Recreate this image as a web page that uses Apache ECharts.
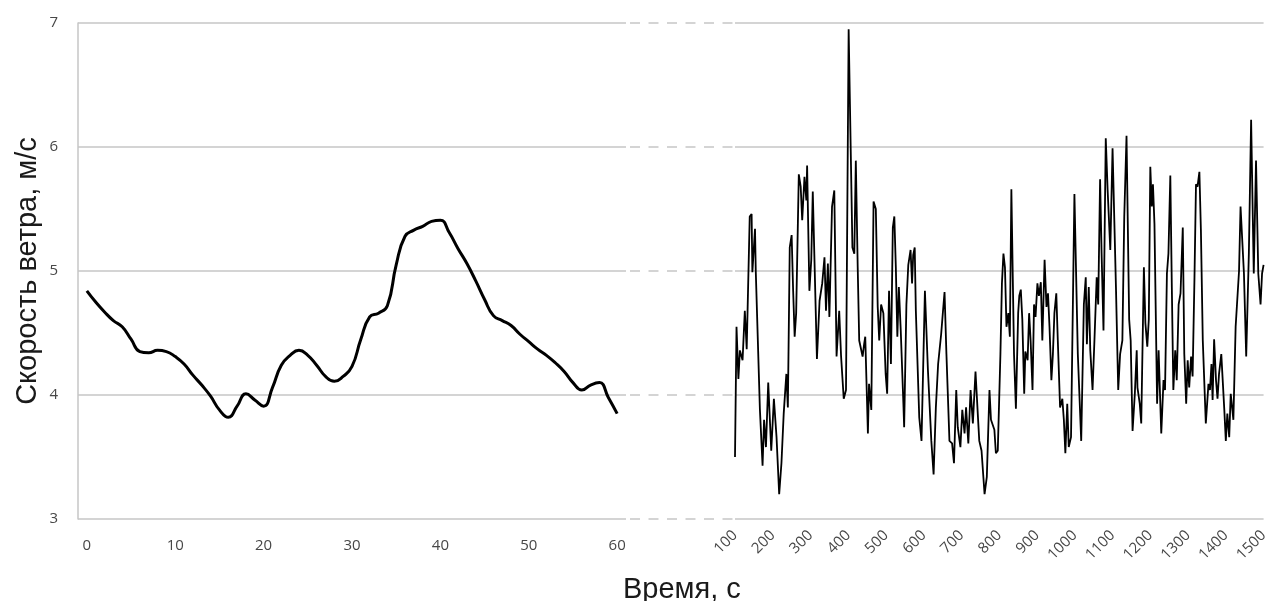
<!DOCTYPE html>
<html>
<head>
<meta charset="utf-8">
<script src="https://cdn.jsdelivr.net/npm/echarts@6/dist/echarts.min.js"></script>
<style>
  html, body { margin: 0; padding: 0; background: #fff; }
  #chart { width: 1271px; height: 601px; }
</style>
</head>
<body>
<div id="chart"></div>
<script>
// first minute, smoothed
var leftTime = [0,1,2,3,4,5,6,7,8,9,10,11,12,13,14,15,16,17,18,19,20,
  21,22,23,24,25,26,27,28,29,30,31,32,33,34,35,36,37,38,39,40,
  41,42,43,44,45,46,47,48,49,50,51,52,53,54,55,56,57,58,59,60];
var leftSpeed = [4.84,4.75,4.67,4.60,4.55,4.45,4.35,4.34,4.36,4.35,4.31,
  4.25,4.16,4.08,3.99,3.88,3.82,3.91,4.01,3.96,3.91,
  4.06,4.24,4.32,4.36,4.32,4.24,4.15,4.11,4.15,4.23,
  4.45,4.63,4.66,4.72,5.05,5.28,5.33,5.36,5.40,5.41,
  5.31,5.18,5.06,4.92,4.77,4.64,4.60,4.56,4.49,4.43,
  4.37,4.32,4.26,4.19,4.10,4.04,4.08,4.10,3.98,3.85];

// 100..1500 s, raw
var rightTime = [100,104,109,113,120,126,131,139,144,146,153,155,166,173,177,182,188,196,
  203,210,217,223,229,236,240,245,250,254,258,262,269,274,278,284,289,291,297,302,306,
  317,324,331,337,341,346,350,357,363,369,376,381,388,394,401,411,416,420,425,429,438,
  442,445,452,455,461,467,473,478,482,487,493,499,503,508,513,518,522,526,530,534,539,
  546,548,554,559,565,569,572,576,579,588,594,603,611,620,626,632,638,642,646,651,655,
  660,668,675,680,686,690,697,702,708,712,718,724,730,737,743,747,753,761,767,774,778,
  787,791,796,803,807,811,815,819,824,828,832,839,844,850,853,857,861,866,869,875,879,
  883,888,892,896,901,905,910,914,920,925,929,933,938,942,946,951,955,961,967,971,975,
  980,984,990,999,1008,1017,1024,1029,1032,1037,1041,1047,1052,1058,1062,1067,1071,1076,
  1082,1087,1094,1100,1109,1115,1120,1126,1131,1137,1144,1148,1153,1159,1164,1166,1172,
  1176,1183,1187,1192,1196,1200,1204,1207,1211,1218,1222,1229,1235,1239,1244,1248,1253,
  1257,1261,1266,1270,1275,1280,1286,1290,1295,1299,1303,1308,1312,1317,1321,1325,1330,
  1334,1339,1347,1354,1358,1362,1365,1369,1374,1378,1382,1388,1396,1400,1404,1409,1413,
  1420,1426,1431,1435,1439,1444,1448,1454,1461,1467,1474,1480,1486,1492,1496,1500];
var rightSpeed = [3.50,4.55,4.13,4.36,4.28,4.68,4.37,5.44,5.46,4.99,5.34,5.00,3.88,3.43,3.80,3.58,4.10,3.55,
  3.97,3.66,3.20,3.45,3.85,4.17,3.90,5.19,5.29,4.84,4.47,4.66,5.78,5.68,5.41,5.76,5.57,5.85,4.84,5.09,5.64,
  4.29,4.76,4.90,5.11,4.68,5.06,4.63,5.52,5.65,4.31,4.68,4.31,3.97,4.04,6.95,5.19,5.14,5.89,5.03,4.44,4.31,
  4.41,4.47,3.69,4.09,3.88,5.56,5.50,4.71,4.44,4.73,4.66,4.17,4.01,4.84,4.25,5.35,5.44,5.03,4.47,4.87,4.52,
  3.93,3.74,4.73,5.05,5.17,4.90,5.13,5.19,4.68,3.82,3.63,4.84,4.20,3.63,3.36,3.90,4.25,4.37,4.49,4.68,4.83,
  4.33,3.63,3.61,3.45,4.04,3.74,3.58,3.88,3.69,3.90,3.61,4.04,3.77,4.19,3.85,3.63,3.55,3.20,3.34,4.04,3.80,
  3.72,3.53,3.55,4.33,4.90,5.14,5.03,4.55,4.66,4.47,5.66,4.33,3.89,4.66,4.80,4.85,4.61,4.01,4.35,4.28,4.66,
  4.44,4.04,4.73,4.63,4.90,4.80,4.91,4.44,5.09,4.71,4.82,4.55,4.12,4.33,4.66,4.82,4.44,3.90,3.97,3.80,3.53,
  3.93,3.58,3.66,5.62,4.33,3.63,4.73,4.95,4.41,4.87,4.36,4.04,4.44,4.95,4.73,5.74,5.14,4.52,
  6.07,5.65,5.17,5.99,4.87,4.04,4.33,4.44,5.44,6.09,4.61,4.44,3.71,4.01,4.36,4.06,3.93,
  3.77,5.03,4.58,4.39,4.61,5.84,5.52,5.70,5.38,3.93,4.36,3.69,4.12,4.04,4.98,5.14,5.77,
  4.87,4.04,4.36,4.12,4.73,4.82,5.35,4.33,3.93,4.28,4.06,4.31,4.15,4.95,5.70,5.68,5.80,
  5.33,4.44,3.77,4.09,4.04,4.25,3.96,4.45,4.12,3.97,4.17,4.33,3.88,3.63,3.85,3.66,4.01,
  3.80,4.55,4.55,5.00,5.52,5.52,4.98,4.31,5.14,6.22,4.98,5.89,4.98,4.73,4.98,5.05];

var leftTicks = [0,10,20,30,40,50,60];

function pairs(xs, ys) {
  var out = [];
  for (var i = 0; i < xs.length; i++) out.push([xs[i], ys[i]]);
  return out;
}

var gridColor = '#c6c6c6';
var labelStyle = { color: '#474747', fontSize: 15, fontFamily: 'Open Sans' };

var chart = echarts.init(document.getElementById('chart'));
var option = {
  animation: false,
  backgroundColor: '#fff',
  title: {
    text: 'Время, с',
    left: 618,
    top: 570,
    textStyle: { fontFamily: 'Liberation Sans', fontWeight: 'normal', fontSize: 29, color: '#1a1a1a' }
  },
  grid: [
    { left: 78, right: 645, top: 23, bottom: 82 },
    { left: 735, right: 4, top: 23, bottom: 82 },
    { left: 626, right: 536, top: 23, bottom: 82 }
  ],
  xAxis: [
    {
      gridIndex: 0, type: 'value', min: -1, max: 61, interval: 1,
      axisLine: { show: false }, axisTick: { show: false }, splitLine: { show: false },
      axisLabel: Object.assign({
        margin: 19,
        formatter: function (v) { return leftTicks.indexOf(v) >= 0 ? String(v) : ''; }
      }, labelStyle)
    },
    {
      gridIndex: 1, type: 'value', min: 100, max: 1500, interval: 100,
      axisLine: { show: false }, axisTick: { show: false }, splitLine: { show: false },
      axisLabel: Object.assign({
        rotate: 45, margin: 14,
        formatter: function (v) { return String(v); }
      }, labelStyle)
    },
    { gridIndex: 2, type: 'value', min: 0, max: 1, show: false }
  ],
  yAxis: [
    {
      gridIndex: 0, type: 'value', min: 3, max: 7, interval: 1,
      name: 'Скорость ветра, м/с', nameLocation: 'middle', nameGap: 36,
      nameTextStyle: { fontFamily: 'Liberation Sans', fontSize: 29, color: '#1a1a1a' },
      axisLine: { show: true, onZero: false, lineStyle: { color: gridColor, width: 1.5 } },
      axisTick: { show: false },
      axisLabel: Object.assign({ margin: 20 }, labelStyle),
      splitLine: { lineStyle: { color: gridColor, width: 1.5 } }
    },
    {
      gridIndex: 1, type: 'value', min: 3, max: 7, interval: 1,
      axisLine: { show: false }, axisTick: { show: false }, axisLabel: { show: false },
      splitLine: { lineStyle: { color: gridColor, width: 1.5 } }
    },
    {
      gridIndex: 2, type: 'value', min: 3, max: 7, interval: 1,
      axisLine: { show: false }, axisTick: { show: false }, axisLabel: { show: false },
      splitLine: { lineStyle: { color: gridColor, width: 1.5, type: [10, 8.5], dashOffset: 14.5 } }
    }
  ],
  series: [
    {
      type: 'line', xAxisIndex: 0, yAxisIndex: 0, smooth: 0.5, symbol: 'none',
      lineStyle: { color: '#000', width: 3 },
      data: pairs(leftTime, leftSpeed)
    },
    {
      type: 'line', xAxisIndex: 1, yAxisIndex: 1, symbol: 'none',
      lineStyle: { color: '#000', width: 1.8 },
      data: pairs(rightTime, rightSpeed)
    },
    { type: 'line', xAxisIndex: 2, yAxisIndex: 2, data: [] }
  ]
};
chart.setOption(option);
</script>
</body>
</html>
